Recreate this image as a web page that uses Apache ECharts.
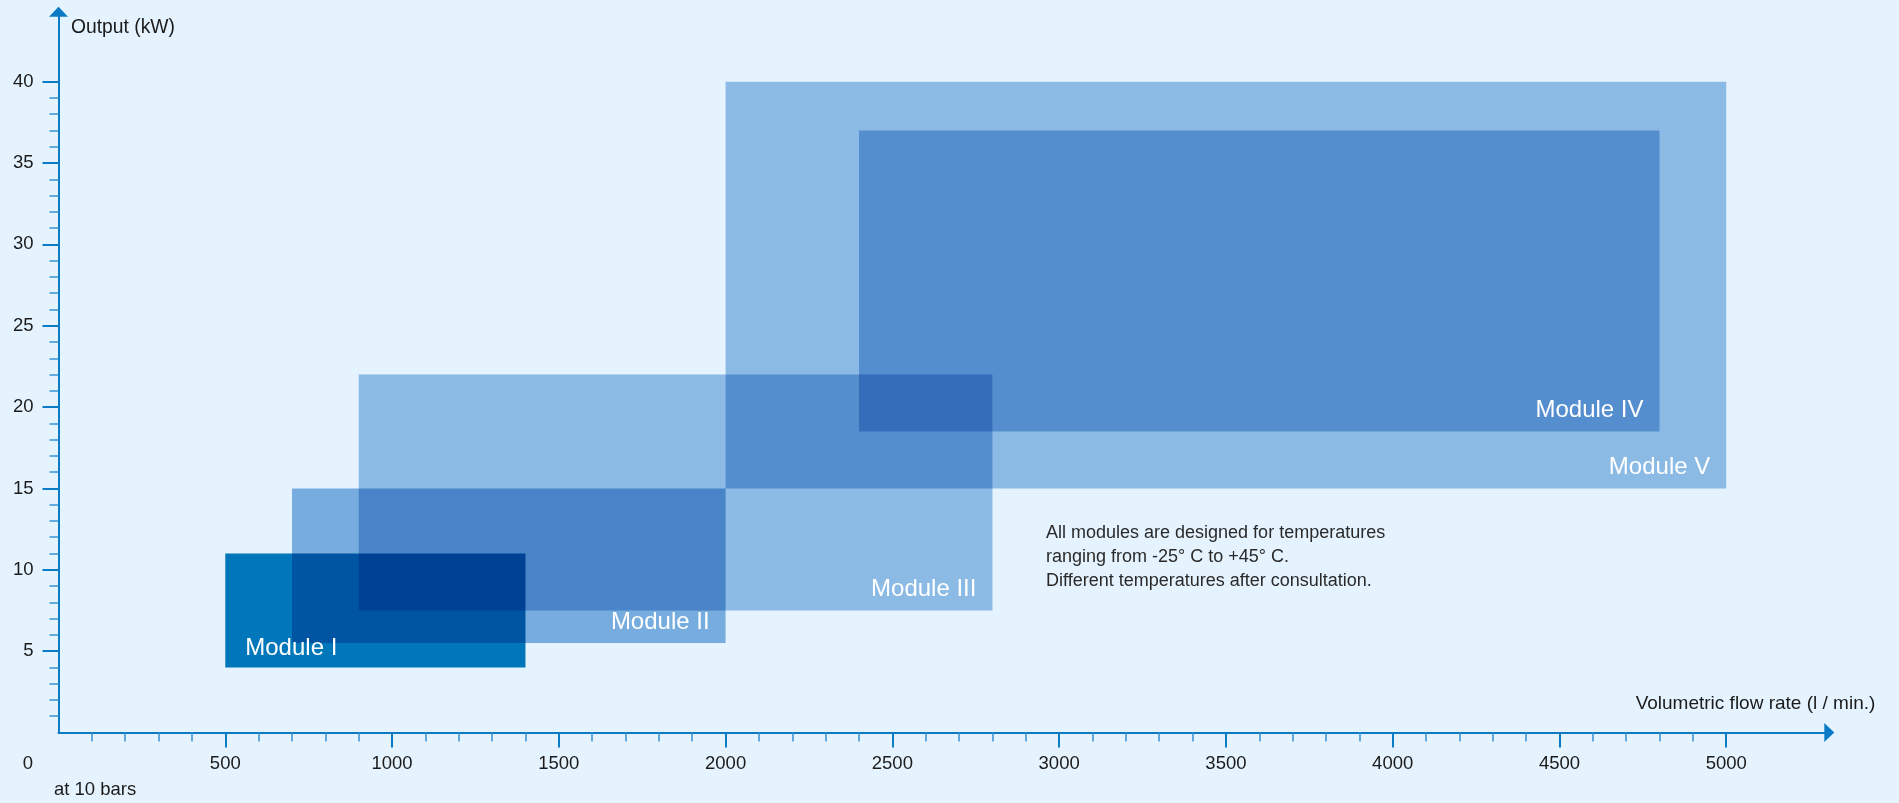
<!DOCTYPE html>
<html>
<head>
<meta charset="utf-8">
<script src="https://cdn.jsdelivr.net/npm/echarts@6/dist/echarts.min.js"></script>
<style>
html,body{margin:0;padding:0;background:#E5F3FE;}
#chart{width:1899px;height:803px;}
</style>
</head>
<body>
<div id="chart"></div>
<script>
// ---- data ----
const modules = ['Module I', 'Module II', 'Module III', 'Module IV', 'Module V'];
const flowMin = [500, 700, 900, 2400, 2000];
const flowMax = [1400, 2000, 2800, 4800, 5000];
const outputMin = [4, 5.5, 7.5, 18.5, 15];
const outputMax = [11, 15, 22, 37, 40];
const xTickLabels = [0, 500, 1000, 1500, 2000, 2500, 3000, 3500, 4000, 4500, 5000];
const yTickLabels = [5, 10, 15, 20, 25, 30, 35, 40];
const xAxisName = 'Volumetric flow rate (l / min.)';
const yAxisName = 'Output (kW)';
const noteText = 'All modules are designed for temperatures\nranging from -25° C to +45° C.\nDifferent temperatures after consultation.';
const originNote = 'at 10 bars';

// ---- styling ----
const FONT = '"Liberation Sans", Arial, Helvetica, sans-serif';
const AXIS = '#0a7bc4';
const MINOR = '#3592d1';
const BG = '#E5F3FE';
const moduleColors = ['#007DBC', '#84B6DF', '#9BC3E6', '#9BC3E6', '#9BC3E6'];

const X_MAX = 5300, Y_MAX = 44.3;
const xMajor = xTickLabels.filter(v => v > 0);
const xMinor = [];
for (let v = 100; v < 5000; v += 100) if (v % 500 !== 0) xMinor.push(v);
const yMinor = [];
for (let v = 1; v < 40; v += 1) if (v % 5 !== 0) yMinor.push(v);

const rectData = modules.map((m, i) => [flowMin[i], flowMax[i], outputMin[i], outputMax[i], i]);

const gridBox = {left: 58.5, right: 72.7, top: 11.7, bottom: 70.5, containLabel: false, outerBoundsMode: 'none'};

const chart = echarts.init(document.getElementById('chart'), null, {renderer: 'canvas'});
chart.setOption({
  backgroundColor: BG,
  animation: false,
  textStyle: {fontFamily: FONT},
  grid: [Object.assign({}, gridBox), Object.assign({}, gridBox)],
  xAxis: [{
    type: 'value', gridIndex: 0, min: 0, max: X_MAX,
    name: xAxisName, nameLocation: 'end', nameGap: 49, nameMoveOverlap: false,
    nameTextStyle: {fontSize: 19, color: '#1b1b1b', fontFamily: FONT, align: 'right', verticalAlign: 'bottom', padding: [0, 0, 19, 0]},
    axisLine: {show: true, symbol: ['none', 'triangle'], symbolSize: [19, 10], symbolOffset: [0, 3], lineStyle: {color: AXIS, width: 2}},
    axisTick: {show: true, length: 15, customValues: xMajor, lineStyle: {color: AXIS, width: 2}},
    axisLabel: {show: true, customValues: xTickLabels, margin: 22, fontSize: 18.5, color: '#1b1b1b', fontFamily: FONT,
      formatter: v => v === 0 ? '{o|0}' : String(v),
      rich: {o: {fontSize: 18.5, color: '#1b1b1b', fontFamily: FONT, padding: [0, 61, 0, 0]}}},
    splitLine: {show: false}
  }, {
    type: 'value', gridIndex: 1, min: 0, max: X_MAX, position: 'bottom',
    axisLine: {show: false},
    axisTick: {show: true, length: 9, customValues: xMinor, lineStyle: {color: MINOR, width: 1.5}},
    axisLabel: {show: false},
    splitLine: {show: false}
  }],
  yAxis: [{
    type: 'value', gridIndex: 0, min: 0, max: Y_MAX,
    name: yAxisName, nameLocation: 'end', nameGap: -16, nameMoveOverlap: false,
    nameTextStyle: {fontSize: 19.3, color: '#1b1b1b', fontFamily: FONT, align: 'left', verticalAlign: 'middle', padding: [0, 0, 0, 12.5]},
    axisLine: {show: true, symbol: ['none', 'triangle'], symbolSize: [19, 10], lineStyle: {color: AXIS, width: 2}},
    axisTick: {show: true, length: 16, customValues: yTickLabels, lineStyle: {color: AXIS, width: 2}},
    axisLabel: {show: true, customValues: yTickLabels, margin: 25, fontSize: 18.5, color: '#1b1b1b', fontFamily: FONT},
    splitLine: {show: false}
  }, {
    type: 'value', gridIndex: 1, min: 0, max: Y_MAX, position: 'left',
    axisLine: {show: false},
    axisTick: {show: true, length: 9, customValues: yMinor, lineStyle: {color: MINOR, width: 1.5}},
    axisLabel: {show: false},
    splitLine: {show: false}
  }],
  series: [{
    type: 'custom', name: 'modules', xAxisIndex: 0, yAxisIndex: 0, z: 2, silent: true,
    data: rectData,
    encode: {x: [0, 1], y: [2, 3]},
    renderItem: function (params, api) {
      const p1 = api.coord([api.value(0), api.value(3)]);
      const p2 = api.coord([api.value(1), api.value(2)]);
      const idx = api.value(4);
      return {
        type: 'rect', name: 'moduleRect',
        shape: {x: p1[0], y: p1[1], width: p2[0] - p1[0], height: p2[1] - p1[1]},
        style: {fill: moduleColors[idx], blend: 'multiply'}
      };
    }
  }, {
    type: 'custom', name: 'labels', xAxisIndex: 0, yAxisIndex: 0, z: 5, silent: true,
    data: rectData,
    encode: {x: [0, 1], y: [2, 3]},
    renderItem: function (params, api) {
      const idx = api.value(4);
      const left = idx === 0;
      const pBL = api.coord([api.value(0), api.value(2)]);
      const pBR = api.coord([api.value(1), api.value(2)]);
      const x = left ? pBL[0] + 20 : pBR[0] - 16;
      const y = pBR[1] - (idx === 0 ? 19 : 21);
      return {
        type: 'text',
        x: x, y: y,
        style: {text: modules[idx], fill: '#ffffff', fontSize: 24, fontFamily: FONT,
          align: left ? 'left' : 'right', verticalAlign: 'middle'}
      };
    }
  }],
  graphic: [{
    type: 'text', left: 1046, top: 521, silent: true,
    style: {text: noteText, fill: '#2a2a2a', fontSize: 18, lineHeight: 24, fontFamily: FONT}
  }, {
    type: 'text', left: 54, top: 780, silent: true,
    style: {text: originNote, fill: '#1b1b1b', fontSize: 18.5, fontFamily: FONT}
  }]
});

// make sure the module rectangles are composited with multiply blending
function applyBlend() {
  const zr = chart.getZr();
  const list = zr.storage.getDisplayList(true);
  list.forEach(function (el) {
    if (el.name === 'moduleRect' || (el.parent && el.parent.name === 'moduleRect')) {
      el.style.blend = 'multiply';
      el.markRedraw();
    }
  });
  zr.refreshImmediately();
}
applyBlend();
chart.on('finished', function () {
  const zr = chart.getZr();
  const needs = zr.storage.getDisplayList(true).some(el => el.name === 'moduleRect' && el.style.blend !== 'multiply');
  if (needs) applyBlend();
});
</script>
</body>
</html>
